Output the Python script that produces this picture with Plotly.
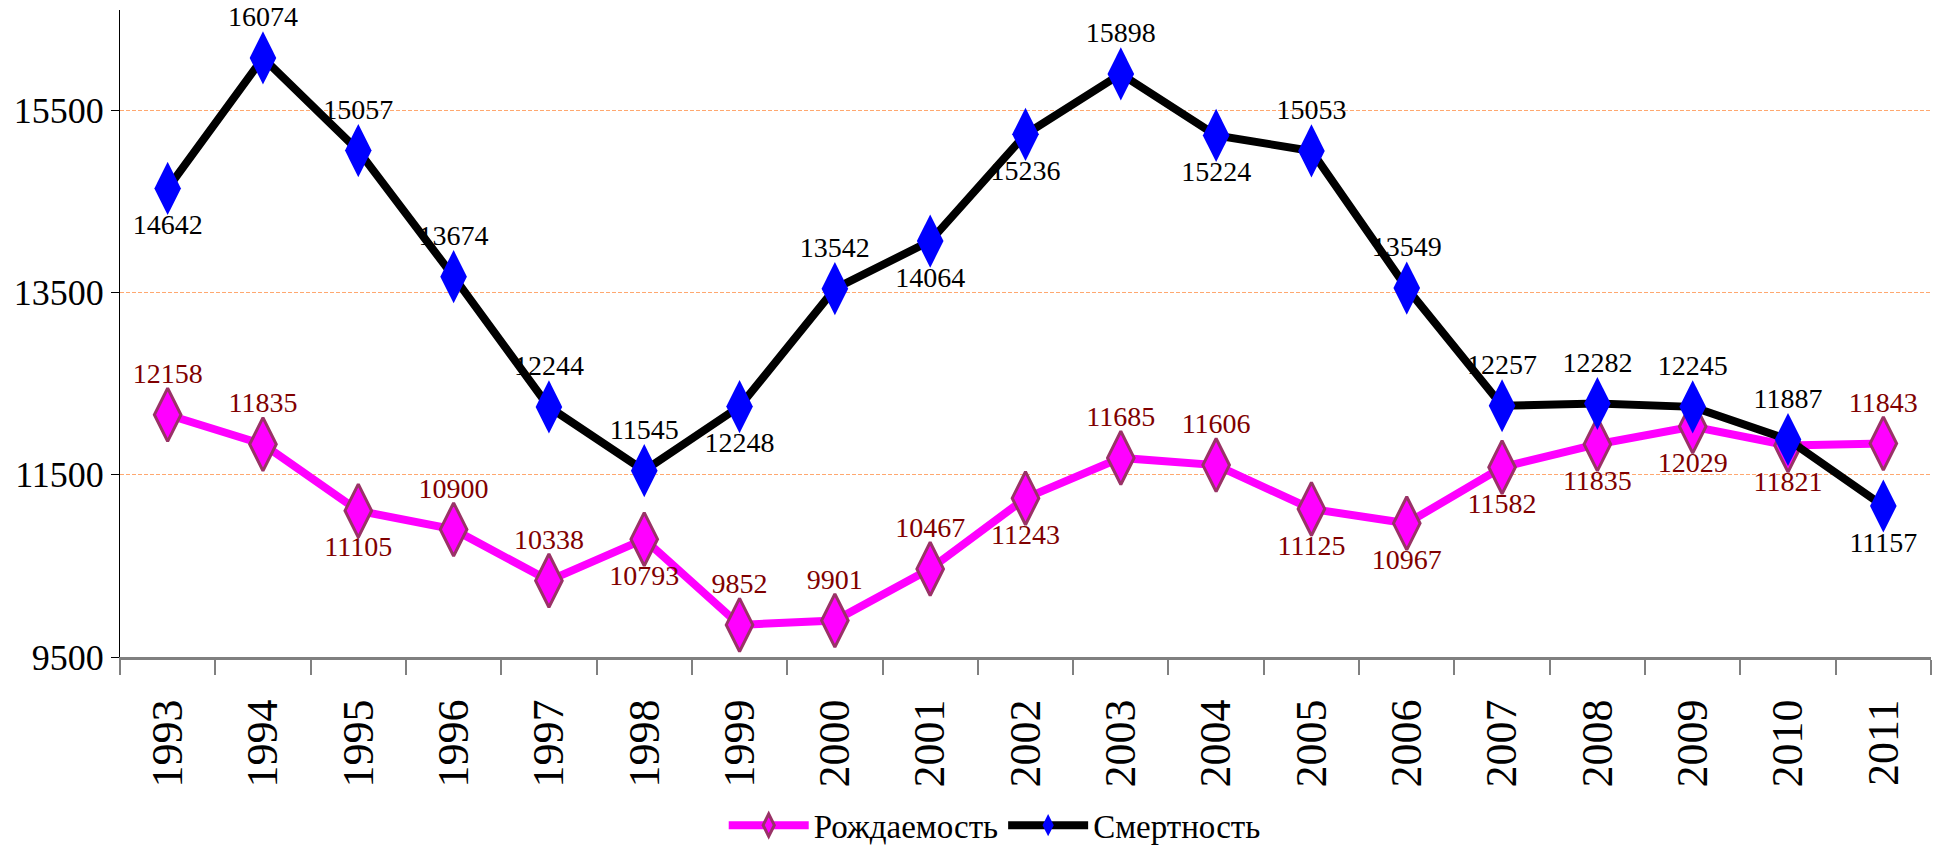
import plotly.graph_objects as go

years = [str(y) for y in range(1993, 2012)]
births = [12158, 11835, 11105, 10900, 10338, 10793, 9852, 9901, 10467, 11243,
          11685, 11606, 11125, 10967, 11582, 11835, 12029, 11821, 11843]
deaths = [14642, 16074, 15057, 13674, 12244, 11545, 12248, 13542, 14064, 15236,
          15898, 15224, 15053, 13549, 12257, 12282, 12245, 11887, 11157]
births_pos = ["top center", "top center", "bottom center", "top center", "top center",
              "bottom center", "top center", "top center", "top center", "bottom center",
              "top center", "top center", "bottom center", "bottom center", "bottom center",
              "bottom center", "bottom center", "bottom center", "top center"]
deaths_pos = ["bottom center", "top center", "top center", "top center", "top center",
              "top center", "bottom center", "top center", "bottom center", "bottom center",
              "top center", "bottom center", "top center", "top center", "top center",
              "top center", "top center", "top center", "bottom center"]
y_ticks = [9500, 11500, 13500, 15500]
y_ticktext = [str(v) for v in y_ticks]

FONT = "Liberation Serif"

fig = go.Figure()
fig.add_trace(go.Scatter(
    x=years, y=births, name="Рождаемость", mode="lines+markers+text",
    line=dict(color="#FF00FF", width=8),
    marker=dict(symbol="diamond-tall", size=38, color="#FF00FF",
                line=dict(color="#993366", width=3)),
    text=[str(v) for v in births], textposition=births_pos,
    textfont=dict(family=FONT, size=28, color="#800000"),
    cliponaxis=False,
))
fig.add_trace(go.Scatter(
    x=years, y=deaths, name="Смертность", mode="lines+markers+text",
    line=dict(color="#000000", width=8),
    marker=dict(symbol="diamond-tall", size=38, color="#0000FF",
                line=dict(color="#0000FF", width=0)),
    text=[str(v) for v in deaths], textposition=deaths_pos,
    textfont=dict(family=FONT, size=28, color="#000000"),
    cliponaxis=False,
))

fig.update_layout(
    width=1934, height=856,
    margin=dict(l=120, r=3, t=10, b=194),
    paper_bgcolor="white", plot_bgcolor="white",
    font=dict(family=FONT, color="black"),
    showlegend=True,
    legend=dict(orientation="h", x=0.483, xanchor="center", y=-0.26, yanchor="middle",
                font=dict(family=FONT, size=33), itemwidth=80),
    xaxis=dict(
        type="category", range=[-0.5, 18.5],
        tickangle=-90, tickfont=dict(family=FONT, size=44),
        showline=True, linecolor="#808080", linewidth=3,
        ticks="outside", ticklen=15, tickcolor="#808080", tickwidth=2,
        tickson="boundaries", showgrid=False, ticklabelstandoff=22,
    ),
    yaxis=dict(
        range=[9500, 16600], tickvals=y_ticks, ticktext=y_ticktext,
        tickfont=dict(family=FONT, size=36),
        showline=True, linecolor="black", linewidth=1,
        ticks="outside", ticklen=8, tickcolor="black",
        showgrid=True, gridcolor="#FFA870", griddash="4px,2px", gridwidth=1,
        zeroline=False,
    ),
)

fig.write_html("out.html", config={"displayModeBar": False},
               post_script="document.body.style.margin='0';")
